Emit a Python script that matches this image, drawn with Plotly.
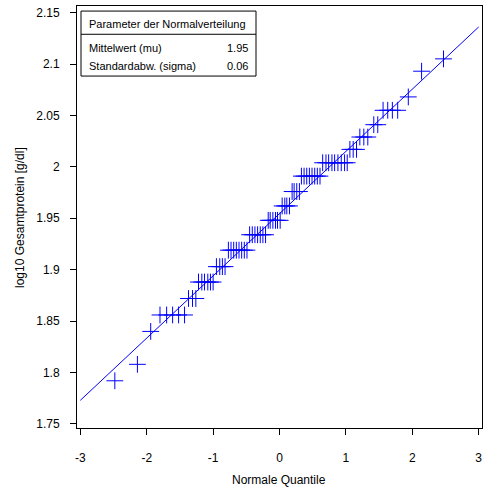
import plotly.graph_objects as go

normal_quantiles = [
    -2.48,
    -2.14,
    -1.94,
    -1.80, -1.70, -1.61, -1.52, -1.43,
    -1.37, -1.31, -1.26,
    -1.22, -1.17, -1.13, -1.08, -1.04, -1.00,
    -0.95, -0.90, -0.86, -0.82,
    -0.77, -0.73, -0.69, -0.65, -0.61, -0.57, -0.53, -0.49,
    -0.45, -0.41, -0.37, -0.33, -0.29, -0.25, -0.21,
    -0.17, -0.14, -0.10, -0.06, -0.03, 0.01,
    0.04, 0.08, 0.11, 0.15,
    0.19, 0.22, 0.26, 0.30,
    0.33, 0.37, 0.41, 0.45, 0.49, 0.53, 0.57, 0.61,
    0.65, 0.70, 0.74, 0.79, 0.83, 0.88, 0.93, 0.98, 1.02,
    1.06, 1.11, 1.16,
    1.21, 1.27, 1.33,
    1.42, 1.48,
    1.56, 1.63, 1.70, 1.78,
    1.94,
    2.14,
    2.47,
]
log_values = (
    [1.792]
    + [1.808]
    + [1.840]
    + [1.856] * 5
    + [1.872] * 3
    + [1.888] * 6
    + [1.903] * 4
    + [1.919] * 8
    + [1.934] * 7
    + [1.948] * 6
    + [1.962] * 4
    + [1.976] * 4
    + [1.991] * 8
    + [2.004] * 9
    + [2.017] * 3
    + [2.029] * 3
    + [2.041] * 2
    + [2.055] * 4
    + [2.068]
    + [2.093]
    + [2.105]
)

# Fitted normal line
line_q = [-3.0, 3.0]
line_mu = 1.9545
line_sigma = 0.0605

x_ticks = [-3, -2, -1, 0, 1, 2, 3]
x_tick_text = ["-3", "-2", "-1", "0", "1", "2", "3"]
y_ticks = [1.75, 1.8, 1.85, 1.9, 1.95, 2.0, 2.05, 2.1, 2.15]
y_tick_text = ["1.75", "1.8", "1.85", "1.9", "1.95", "2", "2.05", "2.1", "2.15"]

x_title = "Normale Quantile"
y_title = "log10 Gesamtprotein [g/dl]"
table_title = "Parameter der Normalverteilung"
table_rows = ["Mittelwert (mu)", "Standardabw. (sigma)"]
table_vals = ["1.95", "0.06"]

FONT = "Liberation Sans, Arial, sans-serif"
BLUE = "#0000FF"

fig = go.Figure()
fig.add_trace(go.Scatter(
    x=line_q, y=[line_mu + line_sigma * q for q in line_q],
    mode="lines", line=dict(color=BLUE, width=1), hoverinfo="skip",
    showlegend=False,
))
fig.add_trace(go.Scatter(
    x=normal_quantiles, y=log_values, mode="markers",
    marker=dict(symbol="cross-thin-open", size=12, color=BLUE,
                line=dict(color=BLUE, width=1)),
    showlegend=False,
))

axis_common = dict(
    showgrid=False, zeroline=False, showline=True, linecolor="black",
    linewidth=1, mirror=True, ticks="outside", ticklen=6, tickcolor="black",
    tickwidth=1, tickfont=dict(family=FONT, size=12, color="black"),
    automargin=False,
)

fig.update_layout(
    width=484, height=492,
    margin=dict(l=77, r=2, t=6, b=64),
    plot_bgcolor="white", paper_bgcolor="white",
    font=dict(family=FONT, size=12, color="black"),
    xaxis=dict(range=[-3.05, 3.05], tickvals=x_ticks, ticktext=x_tick_text,
               ticklabelstandoff=13, **axis_common),
    yaxis=dict(range=[1.7461, 2.1564], tickvals=y_ticks, ticktext=y_tick_text,
               ticklabelstandoff=8, **axis_common),
)

# Axis titles (pixel-placed)
PW, PH = 405, 422
fig.add_annotation(xref="paper", yref="paper", x=(279 - 77) / PW, y=(428 - 480) / PH,
                   text=x_title, showarrow=False, xanchor="center", yanchor="middle",
                   font=dict(family=FONT, size=12))
fig.add_annotation(xref="paper", yref="paper", x=(20 - 77) / PW, y=(428 - 217) / PH,
                   text=y_title, showarrow=False, textangle=-90,
                   xanchor="center", yanchor="middle",
                   font=dict(family=FONT, size=12))

# Parameter table
x0, x1 = 0.0099, 0.442
y_top, y_bot, y_sep = 0.988, 0.834, 0.933
fig.add_shape(type="rect", xref="paper", yref="paper", x0=x0, x1=x1,
              y0=y_bot, y1=y_top, line=dict(color="black", width=1),
              fillcolor="white", layer="above")
fig.add_shape(type="line", xref="paper", yref="paper", x0=x0, x1=x1,
              y0=y_sep, y1=y_sep, line=dict(color="black", width=1))
fig.add_annotation(xref="paper", yref="paper", x=0.024, y=(428 - 24) / 422,
                   text=table_title, showarrow=False, xanchor="left",
                   yanchor="middle", font=dict(family=FONT, size=11))
row_y = [(428 - 48) / 422, (428 - 66) / 422]
for lab, val, yy in zip(table_rows, table_vals, row_y):
    fig.add_annotation(xref="paper", yref="paper", x=0.024, y=yy, text=lab,
                       showarrow=False, xanchor="left", yanchor="middle",
                       font=dict(family=FONT, size=11))
    fig.add_annotation(xref="paper", yref="paper", x=0.426, y=yy, text=val,
                       showarrow=False, xanchor="right", yanchor="middle",
                       font=dict(family=FONT, size=11))

fig.write_html("out.html",
               config={"displayModeBar": False},
               post_script="document.body.style.margin='0';document.body.style.overflow='hidden';")
